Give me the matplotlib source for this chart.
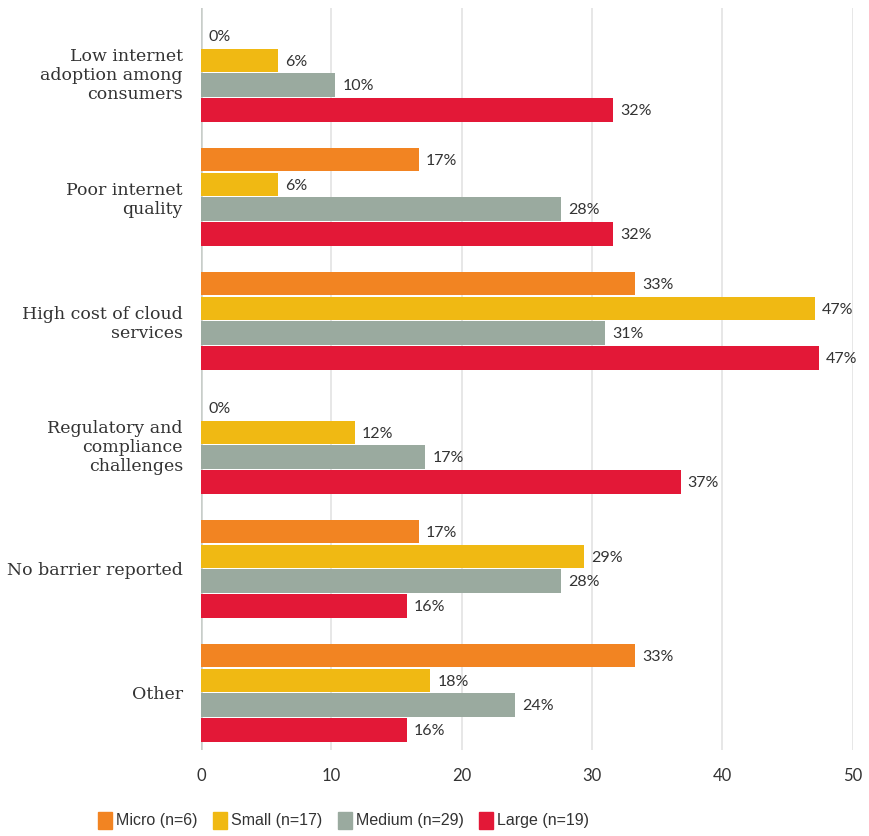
import numpy as np
import matplotlib
matplotlib.use("Agg")
import matplotlib.pyplot as plt
from matplotlib import font_manager as fm
from matplotlib.patches import Patch

categories = [
    "Low internet\nadoption among\nconsumers",
    "Poor internet\nquality",
    "High cost of cloud\nservices",
    "Regulatory and\ncompliance\nchallenges",
    "No barrier reported",
    "Other",
]
series = ["Micro (n=6)", "Small (n=17)", "Medium (n=29)", "Large (n=19)"]
micro = [0.0, 16.7, 33.3, 0.0, 16.7, 33.3]
small = [5.9, 5.9, 47.1, 11.8, 29.4, 17.6]
medium = [10.3, 27.6, 31.0, 17.2, 27.6, 24.1]
large = [31.6, 31.6, 47.4, 36.8, 15.8, 15.8]
colors = ["#F28422", "#F0B913", "#9AAA9F", "#E31837"]
xticks = [0, 10, 20, 30, 40, 50]

installed = {f.name for f in fm.fontManager.ttflist}
narrow = "Liberation Sans Narrow" if "Liberation Sans Narrow" in installed else "Liberation Sans"

text_col = "#333333"
fig = plt.figure(figsize=(8.7, 8.36), dpi=100)
ax = fig.add_axes([0.231, 0.103, 0.749, 0.887])

y = np.arange(len(categories))
step, h = 0.2, 0.19
for i, (vals, c) in enumerate(zip([micro, small, medium, large], colors)):
    pos = y + (i - 1.5) * step
    ax.barh(pos, vals, height=h, color=c, zorder=3)
    for p, v in zip(pos, vals):
        ax.text(v + 0.55, p + 0.01, f"{v:.0f}%", va="center", ha="left",
                fontsize=11.5, color=text_col, family="Lato", zorder=4)

ax.set_xlim(0, 50)
ax.set_ylim(len(categories) - 0.54, -0.52)
ax.set_xticks(xticks)
ax.set_xticklabels([str(t) for t in xticks], fontsize=12, color=text_col, family="Lato")
ax.set_yticks(y)
ax.set_yticklabels(categories, fontsize=12.5, color=text_col, family="DejaVu Serif",
                   linespacing=1.15)
ax.tick_params(axis="both", length=0)
ax.tick_params(axis="x", pad=13)
ax.tick_params(axis="y", pad=13)
for s in ax.spines.values():
    s.set_visible(False)
ax.xaxis.grid(True, color="#e3e3e3", lw=1.2, zorder=0)
ax.axvline(0, color="#c8cdc9", lw=1.8, zorder=2)

handles = [Patch(color=c) for c in colors]
fig.legend(handles, series, loc="center", bbox_to_anchor=(0.395, 0.019), ncol=4,
           frameon=False, handlelength=0.85, handleheight=1.25, handletextpad=0.25,
           columnspacing=1.0, prop={"family": narrow, "size": 11.5},
           labelcolor=text_col, borderpad=0, borderaxespad=0)

fig.savefig("out.png", dpi=100)
